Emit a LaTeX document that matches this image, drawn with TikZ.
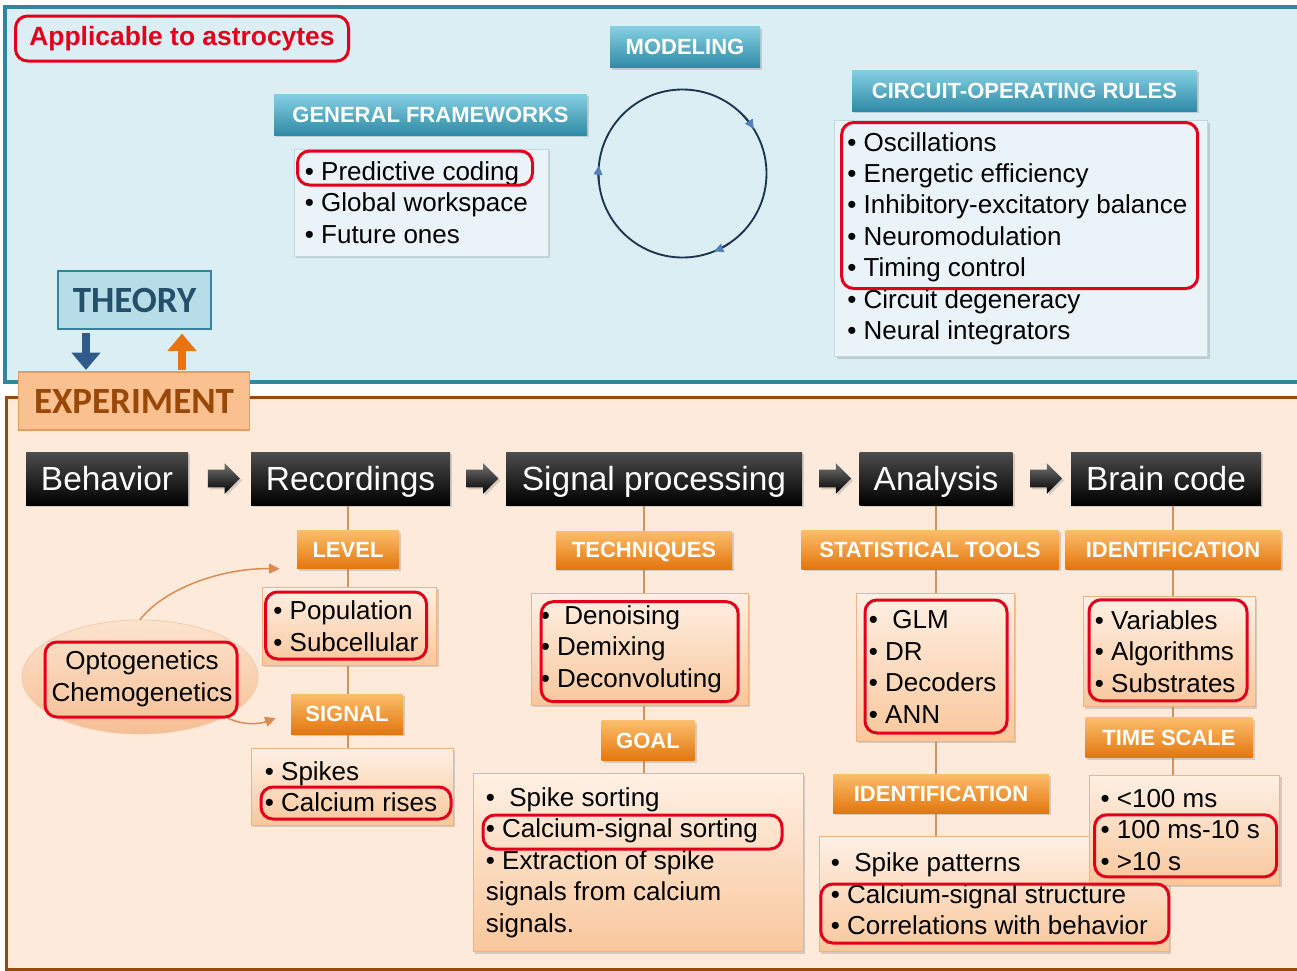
\documentclass[tikz,border=0pt]{standalone}
\usepackage{fontspec}
\setmainfont{Liberation Sans}
\newfontfamily\calib{Carlito}
\usetikzlibrary{positioning, calc, shapes.geometric, shapes.arrows, shadows, arrows.meta, backgrounds}

\newdimen\pxu
\pxu=0.75pt

\definecolor{tealline}{HTML}{31859C}
\definecolor{topfill}{HTML}{DBEEF4}
\definecolor{brownline}{HTML}{984807}
\definecolor{botfill}{HTML}{FDEADA}
\definecolor{hlred}{HTML}{E2001A}
\definecolor{linkcol}{HTML}{D0935F}
\definecolor{peachtop}{HTML}{FEF0E4}
\definecolor{peachbot}{HTML}{F9C79C}
\definecolor{peachline}{HTML}{EEB283}
\definecolor{orangetop}{HTML}{FBBE6C}
\definecolor{orangebot}{HTML}{E3760E}
\definecolor{bluetop}{HTML}{86D0E4}
\definecolor{bluebot}{HTML}{2F8AA5}
\definecolor{listblue}{HTML}{EAF3F7}
\definecolor{listblueline}{HTML}{C2D8E1}
\definecolor{theoryfill}{HTML}{B7DEE8}
\definecolor{theorytext}{HTML}{24506A}
\definecolor{experfill}{HTML}{FAC090}
\definecolor{experline}{HTML}{E39D5E}
\definecolor{downblue}{HTML}{2F5B8A}
\definecolor{uporange}{HTML}{E8730F}
\definecolor{cyclenavy}{HTML}{1E3550}
\definecolor{cycleblue}{HTML}{4F81BD}
\definecolor{optotop}{HTML}{FCE3CE}
\definecolor{optobot}{HTML}{F6BF94}
\definecolor{optoline}{HTML}{F1CBAC}
\definecolor{optoarrcol}{HTML}{DA8A4E}

\newcommand{\lstfont}{\fontsize{19.5}{23.6}\selectfont}
\newcommand{\hdfont}{\bfseries\fontsize{16.5}{19}\selectfont}
\newcommand{\bkfont}{\fontsize{25.1}{30}\selectfont}
\newcommand{\bigfont}{\calib\bfseries\fontsize{27.75}{32}\selectfont}
\newcommand{\astrofont}{\bfseries\fontsize{19.8}{22}\selectfont}

\tikzset{
  dims/.style 2 args={minimum width=#1\pxu, minimum height=#2\pxu},
  toppanel/.style={draw=tealline, fill=topfill, line width=3pt},
  botpanel/.style={draw=brownline, fill=botfill, line width=2.25pt},
  softshadow/.style={drop shadow={shadow xshift=1.5pt, shadow yshift=-1.5pt, opacity=0.3}},
  bluehead/.style={rectangle, inner sep=0pt, top color=bluetop, bottom color=bluebot,
    text=white, font=\hdfont, text height=14.8pt, text depth=3pt, softshadow},
  orangehead/.style={rectangle, inner sep=0pt, top color=orangetop, bottom color=orangebot,
    text=white, font=\hdfont, text height=14.8pt, text depth=3pt, softshadow},
  bluelist/.style={rectangle, inner sep=0pt, fill=listblue, draw=listblueline, line width=0.6pt, softshadow},
  peachlist/.style={rectangle, inner sep=0pt, top color=peachtop, bottom color=peachbot,
    draw=peachline, line width=0.6pt, softshadow},
  lsttext/.style={font=\lstfont, align=left, inner sep=0pt, text=black},
  blackbox/.style={rectangle, inner sep=0pt, top color=black!70, bottom color=black,
    text=white, font=\bkfont, text height=22.6pt, text depth=4.6pt, softshadow},
  blockarr/.style={single arrow, single arrow head extend=6.5\pxu, minimum height=32\pxu,
    minimum width=30\pxu, inner xsep=0pt, inner ysep=8.5\pxu, top color=black!55, bottom color=black, softshadow},
  hilite/.style={rectangle, inner sep=0pt, draw=hlred, line width=2.25pt, rounded corners=9pt},
  link/.style={draw=linkcol, line width=1pt},
  theorybox/.style={rectangle, inner sep=0pt, fill=theoryfill, draw=tealline, line width=0.8pt,
    text=theorytext, font=\bigfont},
  experbox/.style={rectangle, inner sep=0pt, fill=experfill, draw=experline, line width=0.8pt,
    text=brownline, font=\bigfont},
  downarr/.style={draw=downblue, line width=5.6pt, -{Triangle[length=13pt, width=21pt]}},
  uparr/.style={draw=uporange, line width=5.6pt, -{Triangle[length=13pt, width=21pt]}},
  optoell/.style={ellipse, inner sep=0pt, top color=optotop, bottom color=optobot, draw=optoline, line width=0.6pt},
  optoarr/.style={draw=optoarrcol, line width=1.1pt, -{Triangle[length=8pt, width=7.5pt]}},
  cycleline/.style={draw=cyclenavy, line width=1.4pt},
  cycletip/.style={draw=cyclenavy, line width=1.4pt, -{Triangle[length=7pt, width=6.5pt, color=cycleblue]}}
}

\begin{document}
\begin{tikzpicture}[x=0.75pt, y=-0.75pt]
  \useasboundingbox (0,0) rectangle (1297,971);
  \begin{scope}[on background layer]
    \draw[toppanel] (5,7) rectangle (1320,382);
    \draw[botpanel] (6,397) rectangle (1320,969);
  \end{scope}

  % theory part
  \node[hilite, dims={333}{45}, text=hlred, font=\astrofont] (astro) at (182,38.5) {Applicable to astrocytes};
  \node[bluehead, dims={150}{41}] (modeling) at (685,47) {MODELING};
  \node[bluehead, dims={313}{41}] (gfhead) at (430.5,114.5) {GENERAL FRAMEWORKS};
  \node[bluehead, dims={345}{41}] (corhead) at (1024.5,90.5) {CIRCUIT-OPERATING RULES};
  \node[bluelist, dims={254}{107}] (gflist) at (421,202.5) {};
  \node[lsttext, right=11\pxu of gflist.west] (gftext) {• Predictive coding\\• Global workspace\\• Future ones};
  \node[bluelist, dims={373}{236}] (corlist) at (1021,238.7) {};
  \node[lsttext, right=13\pxu of corlist.west] (cortext) {• Oscillations\\• Energetic efficiency\\• Inhibitory-excitatory balance\\• Neuromodulation\\• Timing control\\• Circuit degeneracy\\• Neural integrators};
  \coordinate (cyc) at (682.5,173.5);
  \draw[cycleline] (cyc) circle[radius=84];
  \foreach \ang in {328, 68, 185.5}
    \draw[cycletip] (cyc) ++(\ang-12:84) arc[start angle=\ang-12, end angle=\ang, radius=84];

  \node[theorybox, dims={153}{58}] (theory) at (134.5,300) {THEORY};
  \node[experbox, dims={231}{58}] (exper) at (134,401) {EXPERIMENT};
  \draw[downarr] ([xshift=-48.5\pxu, yshift=-3\pxu]theory.south) -- ([xshift=-48\pxu, yshift=1.5\pxu]exper.north);
  \draw[uparr] ([xshift=48\pxu, yshift=1.5\pxu]exper.north) -- ([xshift=47.5\pxu, yshift=-4\pxu]theory.south);

  % experiment pipeline
  \node[blackbox, dims={162}{53}] (behavior) at (107,478.5) {Behavior};
  \node[blackbox, dims={199}{53}] (recordings) at (350.5,478.5) {Recordings};
  \node[blackbox, dims={296}{53}] (sigproc) at (654,478.5) {Signal processing};
  \node[blackbox, dims={153}{53}] (analysis) at (936,478.5) {Analysis};
  \node[blackbox, dims={190}{53}] (braincode) at (1166,478.5) {Brain code};
  \foreach \a/\b [count=\i] in {behavior/recordings, recordings/sigproc, sigproc/analysis, analysis/braincode}
    \node[blockarr] (go\i) at ($(\a.east)!0.5!(\b.west)$) {};

  % recordings column
  \node[orangehead, dims={102}{38}] (level) at (348,549.5) {LEVEL};
  \node[peachlist, dims={174}{78}] (popbox) at (349.5,626) {};
  \node[lsttext, right=11\pxu of popbox.west] (poptext) {• Population\\• Subcellular};
  \node[orangehead, dims={112}{40}] (signal) at (347,714) {SIGNAL};
  \node[peachlist, dims={202}{77}] (sigbox) at (352,786.5) {};
  \node[lsttext, right=14\pxu of sigbox.west] (sigtext) {• Spikes\\• Calcium rises};

  % signal processing column
  \node[orangehead, dims={176}{38}] (techniques) at (644,550) {TECHNIQUES};
  \node[peachlist, dims={217}{112}] (techbox) at (639.5,649) {};
  \node[lsttext, right=10\pxu of techbox.west] (techtext) {•\ \ Denoising\\• Demixing\\• Deconvoluting};
  \node[orangehead, dims={93}{40}] (goal) at (648,740.5) {GOAL};
  \node[peachlist, dims={330}{178}] (goalbox) at (638,862.5) {};
  \node[lsttext, right=13\pxu of goalbox.west] (goaltext) {•\ \ Spike sorting\\• Calcium-signal sorting\\• Extraction of spike\\signals from calcium\\signals.};

  % analysis column
  \node[orangehead, dims={257}{39}] (stattools) at (930,549.5) {STATISTICAL TOOLS};
  \node[peachlist, dims={158}{148}] (statbox) at (935,667) {};
  \node[lsttext, right=13\pxu of statbox.west] (stattext) {•\ \ GLM\\• DR\\• Decoders\\• ANN};
  \node[orangehead, dims={216}{39}] (idmid) at (941,793.5) {IDENTIFICATION};
  \node[peachlist, dims={350}{115}] (identbox) at (994,894) {};
  \node[lsttext, right=12\pxu of identbox.west] (identtext) {•\ \ Spike patterns\\• Calcium-signal structure\\• Correlations with behavior};

  % brain code column
  \node[orangehead, dims={215}{39}] (idhead) at (1173,549.5) {IDENTIFICATION};
  \node[peachlist, dims={172}{110}] (idbox) at (1169,651.7) {};
  \node[lsttext, right=12\pxu of idbox.west] (idtext) {• Variables\\• Algorithms\\• Substrates};
  \node[orangehead, dims={167}{40}] (timescale) at (1169,737.7) {TIME SCALE};
  \node[peachlist, dims={190}{110}] (timebox) at (1184.7,830) {};
  \node[lsttext, right=11\pxu of timebox.west] (timetext) {• <100 ms\\• 100 ms-10 s\\• >10 s};

  % manipulation
  \node[optoell, dims={236}{114}] (opto) at (140,677) {};
  \node[lsttext, align=center] (optotext) at (142,679) {Optogenetics\\Chemogenetics};
  \draw[optoarr] (opto.north) .. controls (165,588) and (222,568) .. ([xshift=-17\pxu]level.south west);
  \draw[optoarr] (opto.-25) .. controls (242,726) and (260,724) .. ([xshift=-15\pxu, yshift=-4\pxu]signal.west);

  % highlights
  \foreach \nm/\x/\y/\w/\h in {hlpred/415/168/235/34, hlcor/1019.7/205.5/356/166,
      hlpop/346/625.5/161/67, hlcal/356/803/190/32, hltech/639.7/651.7/197/100,
      hlgoal/632.5/832/299/34, hlstat/936/666.5/142/133, hlid/1168/650.3/158/101,
      hltime/1185.6/845.8/182/62, hlident/994.8/913.5/348/59, hlopto/141/679.5/192/75}
    \node[hilite, dims={\w}{\h}] (\nm) at (\x,\y) {};

  \begin{scope}[on background layer]
    \foreach \a/\b/\c in {recordings/level/level, level/popbox/level, popbox/signal/level, signal/sigbox/level,
        sigproc/techniques/techniques, techniques/techbox/techniques, techbox/goal/techniques, goal/goalbox/techniques,
        analysis/stattools/analysis, stattools/statbox/analysis, statbox/idmid/analysis, idmid/identbox/analysis,
        braincode/idhead/idhead, idhead/idbox/idhead, idbox/timescale/idhead, timescale/timebox/idhead}
      \draw[link] (\a.south -| \c) -- (\b.north -| \c);
  \end{scope}
\end{tikzpicture}
\end{document}
